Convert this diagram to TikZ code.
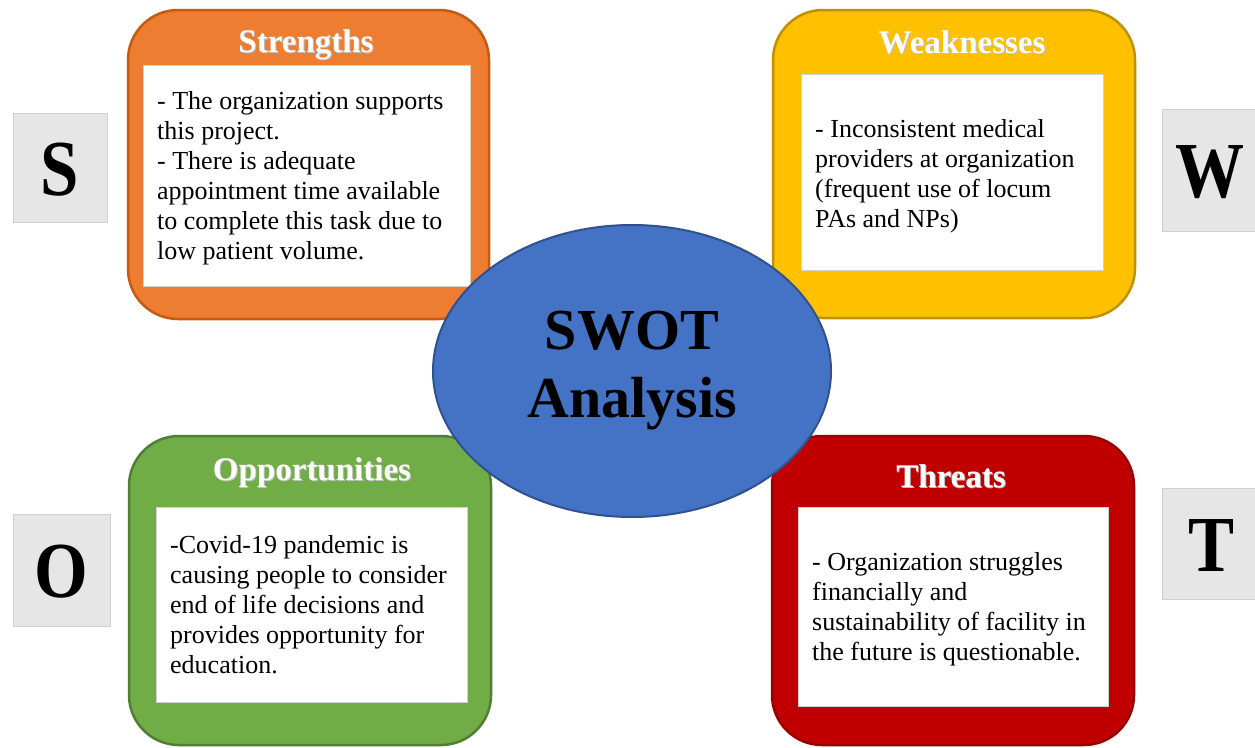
\documentclass[tikz,border=0pt]{standalone}
\usepackage{fontspec}
\setmainfont{LiberationSerif}[Extension=.ttf, UprightFont=*-Regular, BoldFont=*-Bold,
  ItalicFont=*-Italic, BoldItalicFont=*-BoldItalic]
\usepackage{graphicx}
\usetikzlibrary{shapes.geometric}

\definecolor{strfill}{HTML}{ED7D31}
\definecolor{strline}{HTML}{C55A11}
\definecolor{weakfill}{HTML}{FFC000}
\definecolor{weakline}{HTML}{BF9000}
\definecolor{oppfill}{HTML}{70AD47}
\definecolor{oppline}{HTML}{507E32}
\definecolor{thrfill}{HTML}{C00000}
\definecolor{thrline}{HTML}{990000}
\definecolor{hubfill}{HTML}{4472C4}
\definecolor{hubline}{HTML}{2F528F}
\definecolor{tilefill}{HTML}{E6E6E6}
\definecolor{tileline}{HTML}{D0D0D0}

% white heading with a soft grey drop shadow
\newcommand\castshadow[1]{\makebox[0pt][l]{\hspace{1pt}\raisebox{-1pt}{\textcolor{black!25}{#1}}}#1}

\begin{document}
\begin{tikzpicture}[x=1pt,y=-1pt,
  card/.style={rectangle, rounded corners=50pt, line width=2.5pt, inner sep=0pt},
  panel/.style={rectangle, fill=white, draw=black!18, line width=0.8pt, inner sep=0pt},
  heading/.style={anchor=base, inner sep=0pt, text=white,
    font=\fontsize{33}{38}\selectfont\bfseries},
  body/.style={anchor=north west, align=left, inner sep=0pt,
    font=\fontsize{26}{30}\selectfont},
  tile/.style={rectangle, fill=tilefill, draw=tileline, line width=1pt, inner sep=0pt},
  initial/.style={anchor=base, inner sep=0pt, font=\fontsize{69}{80}\selectfont\bfseries}]

\useasboundingbox (0,0) rectangle (1255,747);

% four quadrant cards
\node[card, fill=strfill, draw=strline, minimum width=361pt, minimum height=309pt] (strcard) at (308.5,164.5) {};
\node[card, fill=weakfill, draw=weakline, minimum width=362pt, minimum height=308pt] (weakcard) at (954,164) {};
\node[card, fill=oppfill, draw=oppline, minimum width=362pt, minimum height=309pt] (oppcard) at (310,590.5) {};
\node[card, fill=thrfill, draw=thrline, minimum width=362pt, minimum height=309pt] (thrcard) at (953,590.5) {};

% white text panels
\node[panel, minimum width=327pt, minimum height=221pt] (strpanel) at (306.5,175.5) {};
\node[panel, minimum width=302pt, minimum height=196pt] (weakpanel) at (952,172) {};
\node[panel, minimum width=311pt, minimum height=195pt] (opppanel) at (311.5,604.5) {};
\node[panel, minimum width=310pt, minimum height=199pt] (thrpanel) at (953,606.5) {};

% headings
\node[heading] (strhead) at (306,52) {\castshadow{Strengths}};
\node[heading] (weakhead) at (962,53) {\castshadow{Weaknesses}};
\node[heading] (opphead) at (312,480) {\castshadow{Opportunities}};
\node[heading] (thrhead) at (951,487) {\castshadow{Threats}};

% panel texts
\node[body] (strtext) at (157,91) {- The organization supports\\this project.\\- There is adequate\\appointment time available\\to complete this task due to\\low patient volume.};
\node[body] (weaktext) at (815,119) {- Inconsistent medical\\providers at organization\\(frequent use of locum\\PAs and NPs)};
\node[body] (opptext) at (170,535) {-Covid-19 pandemic is\\causing people to consider\\end of life decisions and\\provides opportunity for\\education.};
\node[body] (thrtext) at (812,552) {- Organization struggles\\financially and\\sustainability of facility in\\the future is questionable.};

% central ellipse
\node[ellipse, fill=hubfill, draw=hubline, line width=2pt, minimum width=398pt, minimum height=292pt,
  inner sep=0pt, align=center, font=\fontsize{58}{68}\selectfont\bfseries] (hub) at (632,371) {SWOT\\Analysis};

% letter tiles
\node[tile, minimum width=94pt, minimum height=109pt] (stile) at (60,167.5) {};
\node[tile, minimum width=103pt, minimum height=122pt] (wtile) at (1213.5,170) {};
\node[tile, minimum width=97pt, minimum height=112pt] (otile) at (61.5,570) {};
\node[tile, minimum width=103pt, minimum height=111pt] (ttile) at (1213.5,543.5) {};

\node[initial] (sletter) at (60,195) {\scalebox{1}[1.15]{S}};
\node[initial] (wletter) at (1210,197) {\scalebox{1}[1.15]{W}};
\node[initial] (oletter) at (61,597) {\scalebox{1}[1.15]{O}};
\node[initial] (tletter) at (1211,571) {\scalebox{1}[1.15]{T}};

\end{tikzpicture}
\end{document}
